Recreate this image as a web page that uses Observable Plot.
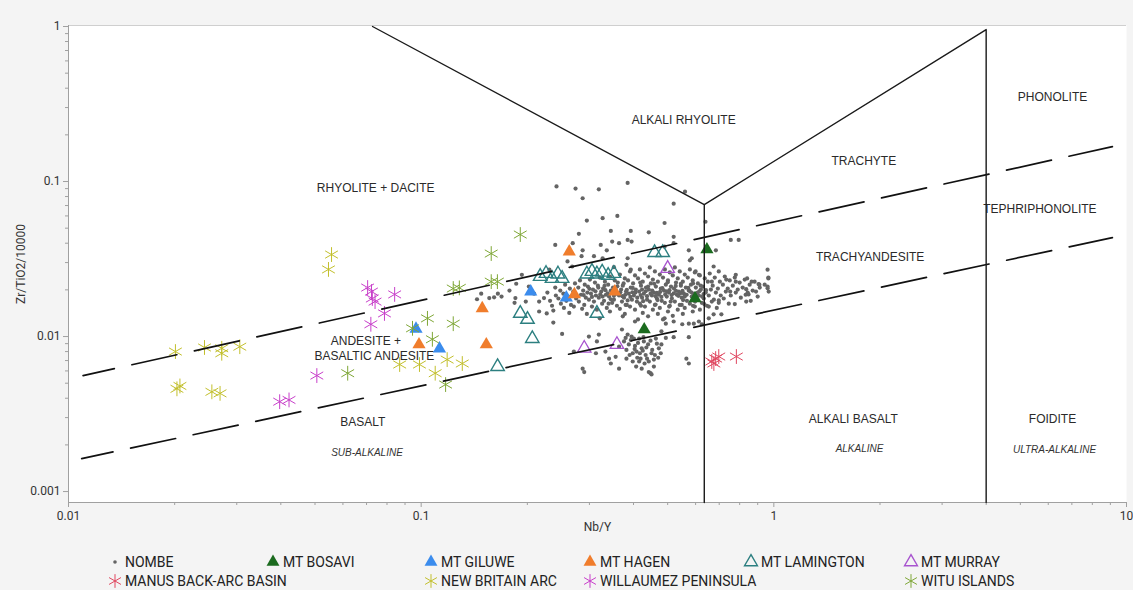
<!DOCTYPE html>
<html>
<head>
<meta charset="utf-8">
<script src="https://cdn.jsdelivr.net/npm/d3@7"></script>
<script src="https://cdn.jsdelivr.net/npm/@observablehq/plot@0.6"></script>
<style>
  body { margin: 0; background: #f4f4f4; }
  #wrap { position: relative; width: 1133px; height: 590px; overflow: hidden; }
  #chart { position: absolute; left: 0; top: 0; }
  .lg { position: absolute; display: flex; align-items: center; font-family: Roboto, "Noto Sans", sans-serif; font-size: 14px; color: #222; white-space: nowrap; line-height: 18px; }
  .lg svg { margin-right: 2px; overflow: visible; }
</style>
</head>
<body>
<div id="wrap"><div id="chart"></div><div id="legend"></div></div>
<script>
// Nb/Y (x) and Zr/TiO2/10000 (y) for each sample suite

const nombe = [
  // upper scatter
  [0.242,0.093],[0.274,0.090],[0.319,0.089],[0.385,0.098],[0.287,0.078],[0.295,0.056],[0.327,0.058],[0.360,0.060],
  [0.490,0.054],[0.560,0.086],[0.520,0.072],[0.640,0.055],[0.280,0.046],[0.345,0.048],[0.393,0.048],[0.240,0.039],
  [0.269,0.040],[0.323,0.039],[0.348,0.041],[0.364,0.040],[0.385,0.042],[0.395,0.041],[0.287,0.036],[0.336,0.036],
  [0.309,0.033],[0.327,0.032],[0.285,0.033],[0.385,0.032],[0.382,0.029],[0.393,0.027],[0.352,0.028],[0.260,0.0305],
  [0.268,0.0283],[0.231,0.027],[0.520,0.044],[0.755,0.042],[0.795,0.042],[0.685,0.036],[0.585,0.032],[0.578,0.031],
  [0.675,0.0283],[0.698,0.0263],[0.780,0.025],[0.960,0.027],[0.965,0.024],[0.490,0.038],[0.520,0.040],[0.600,0.0263],
  [0.613,0.025],[0.442,0.047],[0.574,0.036],[0.960,0.0205],[0.905,0.0218],[0.840,0.0237],
  // low Nb/Y tail
  [0.193,0.025],[0.186,0.0219],[0.178,0.0198],[0.169,0.0181],[0.165,0.0189],[0.161,0.0179],[0.156,0.0177],[0.148,0.0189],
  [0.144,0.0174],[0.185,0.0177],[0.184,0.0165],[0.216,0.0168],[0.223,0.0177],[0.227,0.0141],[0.202,0.021],[0.198,0.0168],
  [0.209,0.0189],[0.216,0.0145],
  // main band
  [0.228,0.0192],[0.232,0.0170],[0.235,0.0158],[0.240,0.0207],[0.241,0.0184],[0.237,0.0147],[0.248,0.0198],[0.245,0.0176],
  [0.249,0.0163],[0.256,0.0216],[0.253,0.0189],[0.258,0.0170],[0.254,0.0153],[0.264,0.0204],[0.261,0.0181],[0.266,0.0160],
  [0.263,0.0142],[0.273,0.0220],[0.270,0.0195],[0.275,0.0176],[0.271,0.0156],[0.282,0.0230],[0.279,0.0207],[0.284,0.0186],
  [0.280,0.0168],[0.286,0.0151],[0.291,0.0216],[0.288,0.0198],[0.293,0.0178],[0.290,0.0160],[0.295,0.0140],[0.301,0.0233],
  [0.297,0.0210],[0.303,0.0189],[0.299,0.0173],[0.305,0.0156],[0.311,0.0223],[0.307,0.0201],[0.313,0.0184],[0.309,0.0168],
  [0.315,0.0149],[0.321,0.0240],[0.317,0.0213],[0.324,0.0195],[0.319,0.0178],[0.326,0.0163],[0.321,0.0131],[0.332,0.0226],
  [0.328,0.0204],[0.334,0.0186],[0.330,0.0170],[0.336,0.0153],[0.343,0.0244],[0.339,0.0216],[0.345,0.0198],[0.341,0.0181],
  [0.348,0.0165],[0.343,0.0145],[0.354,0.0230],[0.350,0.0207],[0.357,0.0189],[0.352,0.0173],[0.359,0.0158],[0.366,0.0251],
  [0.361,0.0223],[0.369,0.0201],[0.364,0.0184],[0.371,0.0168],[0.366,0.0151],[0.373,0.0135],[0.378,0.0237],[0.373,0.0213],
  [0.381,0.0195],[0.376,0.0178],[0.383,0.0160],[0.378,0.0140],[0.391,0.0263],[0.386,0.0230],[0.393,0.0207],[0.388,0.0189],
  [0.396,0.0173],[0.391,0.0156],[0.404,0.0248],[0.399,0.0220],[0.406,0.0201],[0.401,0.0184],[0.409,0.0168],[0.404,0.0149],
  [0.412,0.0129],[0.417,0.0271],[0.412,0.0237],[0.420,0.0213],[0.415,0.0195],[0.423,0.0178],[0.417,0.0163],[0.425,0.0142],
  [0.431,0.0255],[0.425,0.0226],[0.434,0.0207],[0.428,0.0189],[0.437,0.0173],[0.431,0.0156],[0.440,0.0135],[0.445,0.0279],
  [0.440,0.0244],[0.448,0.0220],[0.442,0.0201],[0.451,0.0184],[0.445,0.0168],[0.454,0.0149],[0.460,0.0263],[0.454,0.0233],
  [0.463,0.0210],[0.457,0.0192],[0.466,0.0176],[0.460,0.0160],[0.469,0.0140],[0.475,0.0251],[0.469,0.0226],[0.478,0.0204],
  [0.472,0.0186],[0.481,0.0170],[0.475,0.0153],[0.485,0.0129],[0.491,0.0271],[0.485,0.0240],[0.494,0.0216],[0.488,0.0198],
  [0.497,0.0181],[0.491,0.0165],[0.501,0.0145],[0.507,0.0259],[0.501,0.0230],[0.511,0.0210],[0.504,0.0192],[0.514,0.0176],
  [0.507,0.0158],[0.517,0.0136],[0.524,0.0279],[0.517,0.0248],[0.528,0.0223],[0.521,0.0204],[0.531,0.0186],[0.524,0.0168],
  [0.534,0.0149],[0.541,0.0263],[0.534,0.0237],[0.545,0.0213],[0.538,0.0195],[0.548,0.0178],[0.541,0.0160],[0.552,0.0140],
  [0.559,0.0251],[0.552,0.0226],[0.563,0.0207],[0.556,0.0189],[0.567,0.0170],[0.559,0.0153],[0.578,0.0271],[0.570,0.0240],
  [0.582,0.0216],[0.574,0.0198],[0.585,0.0181],[0.578,0.0163],[0.589,0.0145],[0.597,0.0259],[0.589,0.0230],[0.601,0.0207],
  [0.593,0.0189],[0.605,0.0173],[0.597,0.0156],[0.617,0.0248],[0.609,0.0220],[0.621,0.0201],[0.613,0.0184],[0.625,0.0165],
  [0.617,0.0149],[0.637,0.0237],[0.629,0.0210],[0.641,0.0192],[0.633,0.0176],[0.646,0.0158],[0.658,0.0255],[0.650,0.0226],
  [0.663,0.0201],[0.654,0.0184],[0.667,0.0168],[0.680,0.0240],[0.671,0.0213],[0.685,0.0192],[0.676,0.0173],[0.689,0.0153],
  [0.703,0.0226],[0.694,0.0204],[0.707,0.0184],[0.698,0.0165],[0.726,0.0244],[0.717,0.0216],[0.731,0.0195],[0.721,0.0176],
  [0.750,0.0230],[0.740,0.0204],[0.755,0.0184],[0.745,0.0163],[0.775,0.0240],[0.765,0.0213],[0.780,0.0192],[0.800,0.0223],
  [0.790,0.0201],[0.806,0.0178],[0.827,0.0233],[0.816,0.0207],[0.832,0.0186],[0.854,0.0216],[0.843,0.0192],[0.860,0.0170],
  [0.882,0.0226],[0.871,0.0198],[0.912,0.0207],[0.900,0.0181],[0.942,0.0216],[0.967,0.0195],
  // main band, densest core
  [0.296,0.0192],[0.312,0.0196],[0.327,0.0181],[0.338,0.0190],[0.352,0.0183],[0.367,0.0193],[0.379,0.0186],[0.392,0.0180],
  [0.405,0.0192],[0.419,0.0185],[0.433,0.0196],[0.447,0.0189],[0.462,0.0182],[0.476,0.0194],[0.492,0.0187],[0.506,0.0199],
  [0.520,0.0190],[0.536,0.0183],[0.551,0.0197],[0.566,0.0186],[0.583,0.0193],[0.600,0.0182],[0.615,0.0196],[0.632,0.0188],
  [0.305,0.0180],[0.345,0.0174],[0.385,0.0171],[0.426,0.0169],[0.468,0.0172],[0.510,0.0168],[0.553,0.0172],[0.598,0.0168],
  [0.318,0.0207],[0.360,0.0211],[0.398,0.0206],[0.440,0.0210],[0.483,0.0205],[0.527,0.0212],[0.572,0.0206],[0.620,0.0213],
  [0.300,0.0203],[0.322,0.0187],[0.333,0.0199],[0.347,0.0191],[0.356,0.0202],[0.372,0.0182],[0.383,0.0200],[0.397,0.0193],
  [0.410,0.0178],[0.423,0.0201],[0.437,0.0182],[0.452,0.0198],[0.466,0.0191],[0.480,0.0180],[0.497,0.0196],[0.513,0.0185],
  [0.528,0.0197],[0.543,0.0190],[0.559,0.0181],[0.576,0.0198],[0.592,0.0187],[0.608,0.0192],[0.626,0.0181],[0.642,0.0199],
  [0.289,0.0185],[0.331,0.0212],[0.375,0.0220],[0.418,0.0223],[0.458,0.0219],[0.500,0.0224],[0.545,0.0219],[0.590,0.0220],
  [0.340,0.0163],[0.380,0.0160],[0.420,0.0158],[0.462,0.0161],[0.505,0.0156],[0.548,0.0160],[0.590,0.0158],[0.635,0.0162],
  // lower group
  [0.251,0.0104],[0.299,0.0100],[0.315,0.0093],[0.333,0.0080],[0.341,0.0072],[0.287,0.0062],[0.290,0.0059],[0.442,0.0059],
  [0.450,0.0057],[0.565,0.0072],[0.574,0.0067],[0.401,0.0097],[0.388,0.0089],[0.271,0.0080],[0.319,0.0103],[0.313,0.0078],
  [0.364,0.0062],[0.382,0.0072],[0.371,0.0111],[0.404,0.0125],[0.415,0.0097],[0.422,0.0084],[0.433,0.0076],[0.442,0.0069],
  [0.447,0.0058],[0.463,0.0097],[0.472,0.0084],[0.408,0.0080],[0.398,0.0069],[0.415,0.0069],[0.422,0.0062],[0.382,0.0082],
  [0.385,0.0103],[0.393,0.0095],[0.404,0.0087],[0.417,0.0078],[0.428,0.0093],[0.435,0.0085],[0.450,0.0078],[0.457,0.0071],
  [0.466,0.0090],[0.478,0.0078],[0.410,0.0073],[0.398,0.0078],[0.376,0.0093],[0.364,0.0086],[0.356,0.0074],[0.345,0.0067],
  [0.430,0.0067],[0.457,0.0064],[0.237,0.0123],
  [0.395,0.0100],[0.412,0.0091],[0.425,0.0081],[0.440,0.0089],[0.452,0.0082],[0.403,0.0083],[0.390,0.0076],[0.419,0.0072],
  [0.437,0.0072],[0.447,0.0094],[0.460,0.0076],[0.427,0.0099],[0.380,0.0098],[0.470,0.0073],[0.407,0.0064],
  // high Nb/Y edge
  [0.667,0.0226],[0.733,0.0233],[0.780,0.0226],[0.835,0.0202],[0.848,0.0187],[0.890,0.0195],[0.835,0.0168],[0.775,0.0162],
  [0.698,0.0171],[0.654,0.0156],[0.675,0.0139],[0.710,0.0139],[0.654,0.0131],[0.490,0.0131],[0.494,0.0121],[0.520,0.0125],
  [0.550,0.0120],[0.574,0.0121],[0.593,0.0121],[0.613,0.0125],[0.625,0.0120],[0.480,0.0108],[0.494,0.0098],[0.520,0.0099],
  [0.574,0.0099],[0.480,0.0089],[0.965,0.0237],[0.960,0.021],[0.910,0.0216],[0.865,0.0226],[0.752,0.0195]
];

const mtBosavi = [[0.646,0.0364],[0.598,0.0176],[0.429,0.0111]];
const mtGiluwe = [[0.2045,0.0195],[0.258,0.0178],[0.0967,0.0112],[0.1127,0.00835]];
const mtHagen = [[0.263,0.0353],[0.149,0.0152],[0.153,0.00888],[0.272,0.0187],[0.354,0.0195],[0.0986,0.00888]];
const mtLamington = [
  [0.1647,0.0064],[0.191,0.0141],[0.2002,0.0129],[0.2066,0.0097],[0.2175,0.0244],[0.226,0.0255],[0.235,0.0237],
  [0.2443,0.0253],[0.251,0.0237],[0.295,0.0253],[0.305,0.0263],[0.315,0.0253],[0.326,0.026],[0.339,0.0248],
  [0.352,0.0255],[0.315,0.0141],[0.459,0.0348],[0.484,0.0348]
];
const mtMurray = [[0.500,0.0275],[0.290,0.0084],[0.359,0.00888]];
const manusBasin = [[0.667,0.0069],[0.684,0.00721],[0.698,0.00743],[0.676,0.0067],[0.783,0.00743]];
const newBritainArc = [
  [0.0201,0.0080],[0.0243,0.0085],[0.0272,0.0084],[0.0272,0.0078],[0.0306,0.0086],[0.0203,0.0046],[0.0207,0.0048],
  [0.0255,0.0044],[0.0269,0.0043],[0.0557,0.0338],[0.0546,0.0271],[0.0869,0.0066],[0.0989,0.0066],[0.1096,0.0058],
  [0.1185,0.0071],[0.1308,0.0067]
];
const willaumez = [
  [0.0705,0.0207],[0.0727,0.0176],[0.0740,0.0168],[0.0841,0.0187],[0.0787,0.0141],[0.0720,0.0120],[0.0723,0.0195],
  [0.0506,0.0056],[0.0397,0.0038],[0.0422,0.0039]
];
const wituIslands = [
  [0.0619,0.0058],[0.0945,0.0113],[0.1042,0.0131],[0.1233,0.0121],[0.1233,0.0204],[0.1283,0.0206],[0.158,0.0343],
  [0.158,0.0226],[0.1645,0.0226],[0.191,0.0455],[0.1076,0.0096],[0.1173,0.0049]
];

// Classification boundaries (Nb/Y, Zr/TiO2)
const boundaryLeft = [[0.0728,1.0],[0.635,0.071],[0.635,0.00085]];
const boundaryRight = [[0.635,0.071],[4.0,0.955],[4.0,0.00085]];
const dashedUpper = [[0.011,0.0056],[9.12,0.168]];
const dashedLower = [[0.0109,0.00163],[9.12,0.0435]];

// Field names
const fieldNames = ["ALKALI RHYOLITE","RHYOLITE + DACITE","TRACHYTE","PHONOLITE","TEPHRIPHONOLITE","TRACHYANDESITE",
  "ANDESITE +","BASALTIC ANDESITE","BASALT","ALKALI BASALT","FOIDITE"];
const fieldX = [0.555,0.0743,1.80,6.17,5.68,1.875,0.0697,0.0737,0.0683,1.68,6.17];
const fieldY = [0.248,0.090,0.135,0.348,0.066,0.0323,0.00929,0.00743,0.00279,0.00292,0.00292];
const seriesTypes = ["SUB-ALKALINE","ALKALINE","ULTRA-ALKALINE"];
const seriesTypeX = [0.0702,1.75,6.25];
const seriesTypeY = [0.00179,0.00189,0.00187];

// Axis ticks
const xMajorTicks = [0.01,0.1,1,10];
const xMinorTicks = [0.02,0.03,0.04,0.05,0.06,0.07,0.08,0.09,0.2,0.3,0.4,0.5,0.6,0.7,0.8,0.9,2,3,4,5,6,7,8,9];
const yMajorTicks = [0.001,0.01,0.1,1];
const yMinorTicks = [0.002,0.003,0.004,0.005,0.006,0.007,0.008,0.009,0.02,0.03,0.04,0.05,0.06,0.07,0.08,0.09,0.2,0.3,0.4,0.5,0.6,0.7,0.8,0.9];

// Legend
const legendNames = ["NOMBE","MT BOSAVI","MT GILUWE","MT HAGEN","MT LAMINGTON","MT MURRAY",
  "MANUS BACK-ARC BASIN","NEW BRITAIN ARC","WILLAUMEZ PENINSULA","WITU ISLANDS"];
const legendColors = ["#646464","#1b6b1f","#3b8ced","#f07d2c","#2c7f80","#a854cf","#e0465f","#c2bf2c","#c83fca","#7fa737"];
const legendSymbols = ["dot","triangle","triangle","triangle","triangleOpen","triangleOpen","asterisk","asterisk","asterisk","asterisk"];

const [cNombe, cBosavi, cGiluwe, cHagen, cLamington, cMurray, cManus, cNewBritain, cWillaumez, cWitu] = legendColors;
const X = d => d[0], Y = d => d[1];
const yLo = 0.00085, yHi = 1.015;

const chart = Plot.plot({
  width: 1133,
  height: 550,
  marginLeft: 68,
  marginRight: 7,
  marginTop: 25,
  marginBottom: 48,
  style: {background: "transparent", fontFamily: "Roboto, 'Noto Sans', sans-serif", fontSize: "11px", color: "#333", overflow: "visible"},
  x: {type: "log", domain: [0.01, 10]},
  y: {type: "log", domain: [yLo, yHi]},
  marks: [
    Plot.frame({fill: "white", stroke: null}),
    Plot.ruleY([yHi], {stroke: "#cfcfcf"}),
    Plot.ruleX([0.01], {stroke: "#a0a0a0"}),
    Plot.ruleY([yLo], {stroke: "#a0a0a0"}),
    Plot.axisX({ticks: xMinorTicks, tickSize: 3, tickFormat: () => "", stroke: "#a0a0a0", label: null}),
    Plot.axisX({ticks: xMajorTicks, tickSize: 5, tickPadding: 4, tickFormat: d => String(d), stroke: "#a0a0a0", fill: "#333",
      label: "Nb/Y", labelAnchor: "center", labelArrow: "none", labelOffset: 28, fontSize: 12}),
    Plot.axisY({ticks: yMinorTicks, tickSize: 3, tickFormat: () => "", stroke: "#a0a0a0", label: null}),
    Plot.axisY({ticks: yMajorTicks, tickSize: 5, tickPadding: 3, tickFormat: d => String(d), stroke: "#a0a0a0", fill: "#333",
      label: "Zr/TiO2/10000", labelAnchor: "center", labelArrow: "none", labelOffset: 52, fontSize: 12}),

    // field names
    Plot.text(fieldNames, {x: (d, i) => fieldX[i], y: (d, i) => fieldY[i], text: d => d,
      fontFamily: "'Liberation Sans', Arial, sans-serif", fontSize: 12, fill: "#2a2a2a"}),
    Plot.text(seriesTypes, {x: (d, i) => seriesTypeX[i], y: (d, i) => seriesTypeY[i], text: d => d,
      fontFamily: "'Liberation Sans', Arial, sans-serif", fontSize: 10, fontStyle: "italic", fill: "#333"}),

    // samples
    Plot.dot(nombe, {x: X, y: Y, r: 2.1, fill: cNombe, stroke: null}),
    Plot.dot(mtBosavi, {x: X, y: Y, symbol: "triangle", r: 4.9, fill: cBosavi, stroke: null}),
    Plot.dot(mtGiluwe, {x: X, y: Y, symbol: "triangle", r: 4.9, fill: cGiluwe, stroke: null}),
    Plot.dot(mtHagen, {x: X, y: Y, symbol: "triangle", r: 4.9, fill: cHagen, stroke: null}),
    Plot.dot(mtLamington, {x: X, y: Y, symbol: "triangle", r: 5, fill: "none", stroke: cLamington, strokeWidth: 1.4}),
    Plot.dot(mtMurray, {x: X, y: Y, symbol: "triangle", r: 5, fill: "none", stroke: cMurray, strokeWidth: 1.3}),
    Plot.dot(manusBasin, {x: X, y: Y, symbol: "asterisk", r: 7, fill: "none", stroke: cManus, strokeWidth: 1}),
    Plot.dot(newBritainArc, {x: X, y: Y, symbol: "asterisk", r: 7, fill: "none", stroke: cNewBritain, strokeWidth: 1}),
    Plot.dot(willaumez, {x: X, y: Y, symbol: "asterisk", r: 7, fill: "none", stroke: cWillaumez, strokeWidth: 1}),
    Plot.dot(wituIslands, {x: X, y: Y, symbol: "asterisk", r: 7, fill: "none", stroke: cWitu, strokeWidth: 1}),

    // field boundaries
    Plot.line(dashedUpper, {x: X, y: Y, stroke: "#111", strokeWidth: 1.7, strokeDasharray: "46,18", strokeDashoffset: 14}),
    Plot.line(dashedLower, {x: X, y: Y, stroke: "#111", strokeWidth: 1.7, strokeDasharray: "46,18", strokeDashoffset: 14}),
    Plot.line(boundaryLeft, {x: X, y: Y, stroke: "#1a1a1a", strokeWidth: 1.4}),
    Plot.line(boundaryRight, {x: X, y: Y, stroke: "#1a1a1a", strokeWidth: 1.4})
  ]
});
document.getElementById("chart").appendChild(chart);

// legend rows below the plot
const legendCols = [115, 273, 431, 590, 751, 911];
const legendSlots = [[0,0],[0,1],[0,2],[0,3],[0,4],[0,5],[1,0],[1,2],[1,3],[1,5]];
const legendRowY = [562, 581];
const legend = document.getElementById("legend");
legendNames.forEach((name, i) => {
  const [row, col] = legendSlots[i];
  const cx = legendCols[col], cy = legendRowY[row];
  const item = document.createElement("div");
  item.className = "lg";
  item.style.left = (cx - 8) + "px";
  item.style.top = (cy - 9) + "px";
  const ns = "http://www.w3.org/2000/svg";
  const svg = document.createElementNS(ns, "svg");
  svg.setAttribute("width", 16);
  svg.setAttribute("height", 18);
  const path = document.createElementNS(ns, "path");
  const kind = legendSymbols[i];
  const color = legendColors[i];
  let d;
  if (kind === "dot") d = d3.symbol(d3.symbolCircle, Math.PI * 1.8 * 1.8)();
  else if (kind === "asterisk") d = d3.symbol(d3.symbolAsterisk, Math.PI * 6.5 * 6.5)();
  else d = d3.symbol(d3.symbolTriangle, Math.PI * 4.8 * 4.8)();
  path.setAttribute("d", d);
  path.setAttribute("transform", "translate(8,9)");
  if (kind === "dot" || kind === "triangle") { path.setAttribute("fill", color); }
  else { path.setAttribute("fill", "none"); path.setAttribute("stroke", color); path.setAttribute("stroke-width", kind === "asterisk" ? 1 : 1.4); }
  svg.appendChild(path);
  const span = document.createElement("span");
  span.textContent = name;
  item.appendChild(svg);
  item.appendChild(span);
  legend.appendChild(item);
});
</script>
</body>
</html>
